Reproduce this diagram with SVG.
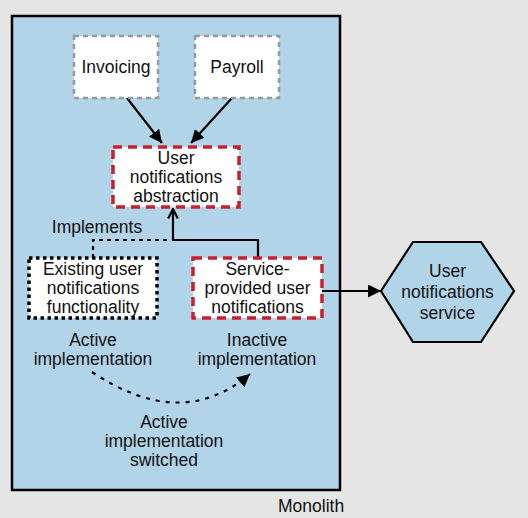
<svg xmlns="http://www.w3.org/2000/svg" width="528" height="518" viewBox="0 0 528 518">
<defs>
<style>
text{font-family:"Liberation Sans",Arial,sans-serif;font-size:17.5px;fill:#111;text-anchor:middle}
.box{fill:#fff}
.gray{stroke:#999;stroke-width:2.5;stroke-dasharray:5 4}
.red{stroke:#c8202e;stroke-width:3.5;stroke-dasharray:9 6}
.dots{stroke:#000;stroke-width:3.5;stroke-dasharray:3.5 3.5}
.ln{fill:none;stroke:#000;stroke-width:2.2}
</style>
<marker id="fill" viewBox="0 0 10 10" refX="10" refY="5" markerWidth="13" markerHeight="13" markerUnits="userSpaceOnUse" orient="auto"><path d="M0,0 L10,5 L0,10 z" fill="#000"/></marker>
<marker id="open" viewBox="0 0 10 10" refX="9" refY="5" markerWidth="12" markerHeight="12" markerUnits="userSpaceOnUse" orient="auto"><path d="M1,1 L9,5 L1,9" fill="none" stroke="#000" stroke-width="1.8"/></marker>
</defs>
<rect x="0" y="0" width="528" height="518" fill="#e5e5e5"/>
<g id="monolith">
<rect x="12" y="16" width="328" height="474" fill="#b2d4e9" stroke="#000" stroke-width="2.5"/>
<text x="278" y="512" style="text-anchor:start">Monolith</text>
</g>
<g id="connectors">
<line class="ln" x1="127" y1="98" x2="162" y2="143" marker-end="url(#fill)"/>
<line class="ln" x1="232" y1="98" x2="191" y2="143" marker-end="url(#fill)"/>
<path class="ln" d="M93,258 V240 H167" stroke-dasharray="4 4"/>
<path class="ln" d="M258,258 V240 H173 V209" marker-end="url(#open)"/>
<line class="ln" x1="322" y1="291" x2="381" y2="291" marker-end="url(#fill)"/>
<path class="ln" d="M92,372 Q182,432 250,374" stroke-dasharray="4 6" marker-end="url(#fill)"/>
<text x="97" y="233">Implements</text>
<text x="93" y="346">Active</text>
<text x="93" y="365">implementation</text>
<text x="257" y="346">Inactive</text>
<text x="257" y="365">implementation</text>
<text x="164" y="428">Active</text>
<text x="164" y="447">implementation</text>
<text x="164" y="466">switched</text>
</g>
<g id="invoicing">
<rect class="box gray" x="74" y="36" width="84" height="62"/>
<text x="116" y="73">Invoicing</text>
</g>
<g id="payroll">
<rect class="box gray" x="195" y="36" width="84" height="62"/>
<text x="237" y="73">Payroll</text>
</g>
<g id="abstraction">
<rect class="box red" x="113" y="147" width="126" height="60"/>
<text x="176" y="164">User</text>
<text x="176" y="183">notifications</text>
<text x="176" y="202">abstraction</text>
</g>
<g id="existing">
<rect class="box dots" x="29" y="258" width="128" height="60"/>
<text x="93" y="275">Existing user</text>
<text x="93" y="294">notifications</text>
<text x="93" y="313">functionality</text>
</g>
<g id="service-provided">
<rect class="box red" x="193" y="258" width="129" height="60"/>
<text x="257.5" y="275">Service-</text>
<text x="257.5" y="294">provided user</text>
<text x="257.5" y="313">notifications</text>
</g>
<g id="user-notifications-service">
<polygon points="381,291 413,242 481,242 514,291 481,342 413,342" fill="#b2d4e9" stroke="#000" stroke-width="2.2"/>
<text x="447.5" y="277">User</text>
<text x="447.5" y="298">notifications</text>
<text x="447.5" y="319">service</text>
</g>
</svg>
